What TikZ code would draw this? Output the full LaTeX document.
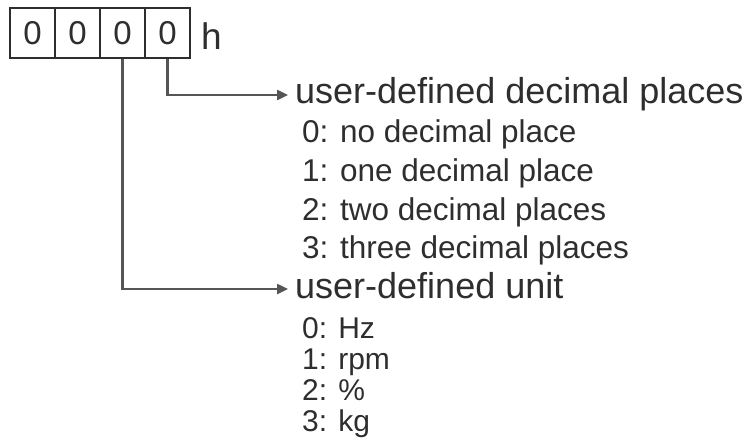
\documentclass[tikz,border=0pt]{standalone}
\usepackage{fontspec}
\setmainfont{Liberation Sans}
\usetikzlibrary{arrows.meta}
\definecolor{ink}{HTML}{2E2E2E}
\definecolor{wire}{HTML}{555555}
\tikzset{
  digitbox/.style={draw=ink, line width=2pt, minimum width=45pt, minimum height=50pt, inner sep=0pt, text=ink, font=\fontsize{33}{33}\selectfont},
  headtext/.style={anchor=base west, inner sep=0pt, text=ink, font=\fontsize{36}{36}\selectfont},
  subtext/.style={anchor=base west, inner sep=0pt, text=ink, font=\fontsize{31.5}{31.5}\selectfont},
  unittext/.style={anchor=base west, inner sep=0pt, text=ink, font=\fontsize{30}{30}\selectfont},
  wireline/.style={draw=wire, line width=2.4pt, -{Triangle[length=11pt,width=10pt]}},
}
\begin{document}
\begin{tikzpicture}[x=1pt,y=-1pt]
\useasboundingbox (0,0) rectangle (756,447);
\node[digitbox] (b1) at (32.5,33) {0};
\node[digitbox] (b2) at (77.5,33) {0};
\node[digitbox] (b3) at (122.5,33) {0};
\node[digitbox] (b4) at (167.5,33) {0};
\node[anchor=base west, inner sep=0pt, text=ink, font=\fontsize{37}{37}\selectfont] (hh) at (201,49) {h};

\coordinate (a1) at (288,95);
\coordinate (a2) at (288,289);
\node[headtext] (h1) at (295,103) {user-defined decimal places};
\node[subtext] (d0) at (302,142) {0: no decimal place};
\node[subtext] (d1) at (302,181) {1: one decimal place};
\node[subtext] (d2) at (302,220) {2: two decimal places};
\node[subtext] (d3) at (302,258) {3: three decimal places};
\node[headtext] (h2) at (295,298) {user-defined unit};
\node[unittext] (u0) at (302,338) {0: Hz};
\node[unittext] (u1) at (302,369) {1: rpm};
\node[unittext] (u2) at (302,400) {2: \%};
\node[unittext] (u3) at (302,431) {3: kg};

\draw[wireline] (b4.south) |- (a1);
\draw[wireline] (b3.south) |- (a2);
\end{tikzpicture}
\end{document}
